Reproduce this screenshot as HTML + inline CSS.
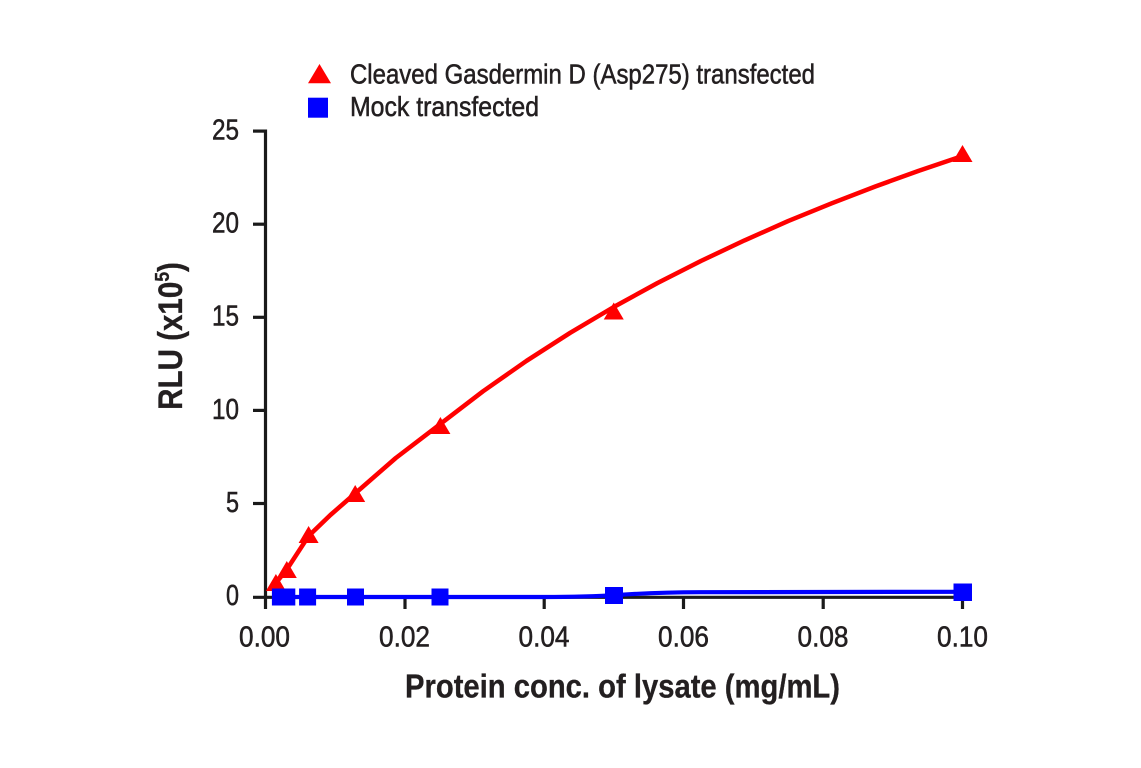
<!DOCTYPE html>
<html>
<head>
<meta charset="utf-8">
<style>
  html, body { margin: 0; padding: 0; background: #ffffff; }
  svg { display: block; }
  text { font-family: "Liberation Sans", "DejaVu Sans", sans-serif; fill: #231f20; }
  .reg { stroke: #231f20; stroke-width: 0.55; }
  .bld { stroke: #231f20; stroke-width: 0.3; }
</style>
</head>
<body>
<svg width="1141" height="768" viewBox="0 0 1141 768" xmlns="http://www.w3.org/2000/svg">
  <rect x="0" y="0" width="1141" height="768" fill="#ffffff"/>

  <!-- Legend -->
  <polygon points="319.5,64 308,83.3 331,83.3" fill="#ff0000"/>
  <text class="reg" x="350" y="83.3" font-size="28" textLength="465" lengthAdjust="spacingAndGlyphs">Cleaved Gasdermin D (Asp275) transfected</text>
  <rect x="308" y="97.7" width="20" height="20" fill="#0000ff"/>
  <text class="reg" x="350" y="116" font-size="28" textLength="189" lengthAdjust="spacingAndGlyphs">Mock transfected</text>

  <!-- Axes -->
  <g stroke="#1a1a1a" stroke-width="3.2" fill="none" stroke-linecap="butt">
    <line x1="265.5" y1="129.5" x2="265.5" y2="609"/>
    <line x1="253" y1="597.3" x2="963" y2="597.3"/>
    <line x1="253" y1="131.1" x2="265.5" y2="131.1"/>
    <line x1="253" y1="224.2" x2="265.5" y2="224.2"/>
    <line x1="253" y1="317.3" x2="265.5" y2="317.3"/>
    <line x1="253" y1="410.4" x2="265.5" y2="410.4"/>
    <line x1="253" y1="503.5" x2="265.5" y2="503.5"/>
    <line x1="405" y1="597.3" x2="405" y2="609"/>
    <line x1="544.2" y1="597.3" x2="544.2" y2="609"/>
    <line x1="683.5" y1="597.3" x2="683.5" y2="609"/>
    <line x1="823.2" y1="597.3" x2="823.2" y2="609"/>
    <line x1="962.5" y1="597.3" x2="962.5" y2="609"/>
  </g>

  <!-- Y tick labels -->
  <g font-size="28.5" text-anchor="end" class="reg">
    <text x="239" y="139.5" textLength="27" lengthAdjust="spacingAndGlyphs">25</text>
    <text x="239" y="232.6" textLength="27" lengthAdjust="spacingAndGlyphs">20</text>
    <text x="239" y="325.7" textLength="27" lengthAdjust="spacingAndGlyphs">15</text>
    <text x="239" y="418.8" textLength="27" lengthAdjust="spacingAndGlyphs">10</text>
    <text x="239" y="511.9" textLength="13" lengthAdjust="spacingAndGlyphs">5</text>
    <text x="239" y="605" textLength="13" lengthAdjust="spacingAndGlyphs">0</text>
  </g>

  <!-- X tick labels -->
  <g font-size="28.5" text-anchor="middle" class="reg">
    <text x="264.5" y="646.5" textLength="51" lengthAdjust="spacingAndGlyphs">0.00</text>
    <text x="404.5" y="646.5" textLength="51" lengthAdjust="spacingAndGlyphs">0.02</text>
    <text x="544" y="646.5" textLength="51" lengthAdjust="spacingAndGlyphs">0.04</text>
    <text x="683.5" y="646.5" textLength="51" lengthAdjust="spacingAndGlyphs">0.06</text>
    <text x="823" y="646.5" textLength="51" lengthAdjust="spacingAndGlyphs">0.08</text>
    <text x="962.5" y="646.5" textLength="51" lengthAdjust="spacingAndGlyphs">0.10</text>
  </g>

  <!-- Axis titles -->
  <text class="bld" x="405" y="697.5" font-size="33" font-weight="bold" textLength="435" lengthAdjust="spacingAndGlyphs">Protein conc. of lysate (mg/mL)</text>
  <text class="bld" transform="translate(182,336) rotate(-90) scale(0.87,1)" x="0" y="0" font-size="34" font-weight="bold" text-anchor="middle">RLU (x10<tspan font-size="20" dy="-13">5</tspan><tspan dy="13">)</tspan></text>

  <!-- Red series curve -->
  <polyline fill="none" stroke="#ff0000" stroke-width="4.5" stroke-linejoin="round" stroke-linecap="round"
    points="275.9,583 286.8,569.5 308.6,536 330.4,515 352.2,496 395.8,458 439.4,424.7 483.0,391.3 526.6,360.8 570.2,332.8 613.75,307 657.3,283.1 700.9,261 744.5,240.4 788.1,221.1 831.7,203.3 875.3,186.5 918.9,170.7 962.5,156"/>

  <!-- Red triangles -->
  <g fill="#ff0000">
    <polygon points="275.9,574 265.9,591 285.9,591"/>
    <polygon points="286.8,561 276.8,578 296.8,578"/>
    <polygon points="308.6,526 298.6,543 318.6,543"/>
    <polygon points="355.2,485 345.2,502 365.2,502"/>
    <polygon points="440.4,417 430.4,434 450.4,434"/>
    <polygon points="613.75,302.5 603.75,319.5 623.75,319.5"/>
    <polygon points="962.5,145 952.5,162 972.5,162"/>
  </g>

  <!-- Blue series line -->
  <path d="M276,597 L544,597 C575,597 598,596.2 620,594.8 C648,593 672,592.3 700,592.2 L962.5,591.8"
    fill="none" stroke="#0000ff" stroke-width="4.2" stroke-linecap="round"/>

  <!-- Blue squares -->
  <g fill="#0000ff">
    <rect x="271.9" y="588.5" width="17" height="17"/>
    <rect x="278.3" y="588.5" width="17" height="17"/>
    <rect x="299.1" y="588.5" width="17" height="17"/>
    <rect x="347" y="588.5" width="17" height="17"/>
    <rect x="431.5" y="588.5" width="17" height="17"/>
    <rect x="605" y="587" width="18" height="17"/>
    <rect x="953.5" y="583.5" width="18.5" height="17.5"/>
  </g>
</svg>
</body>
</html>
